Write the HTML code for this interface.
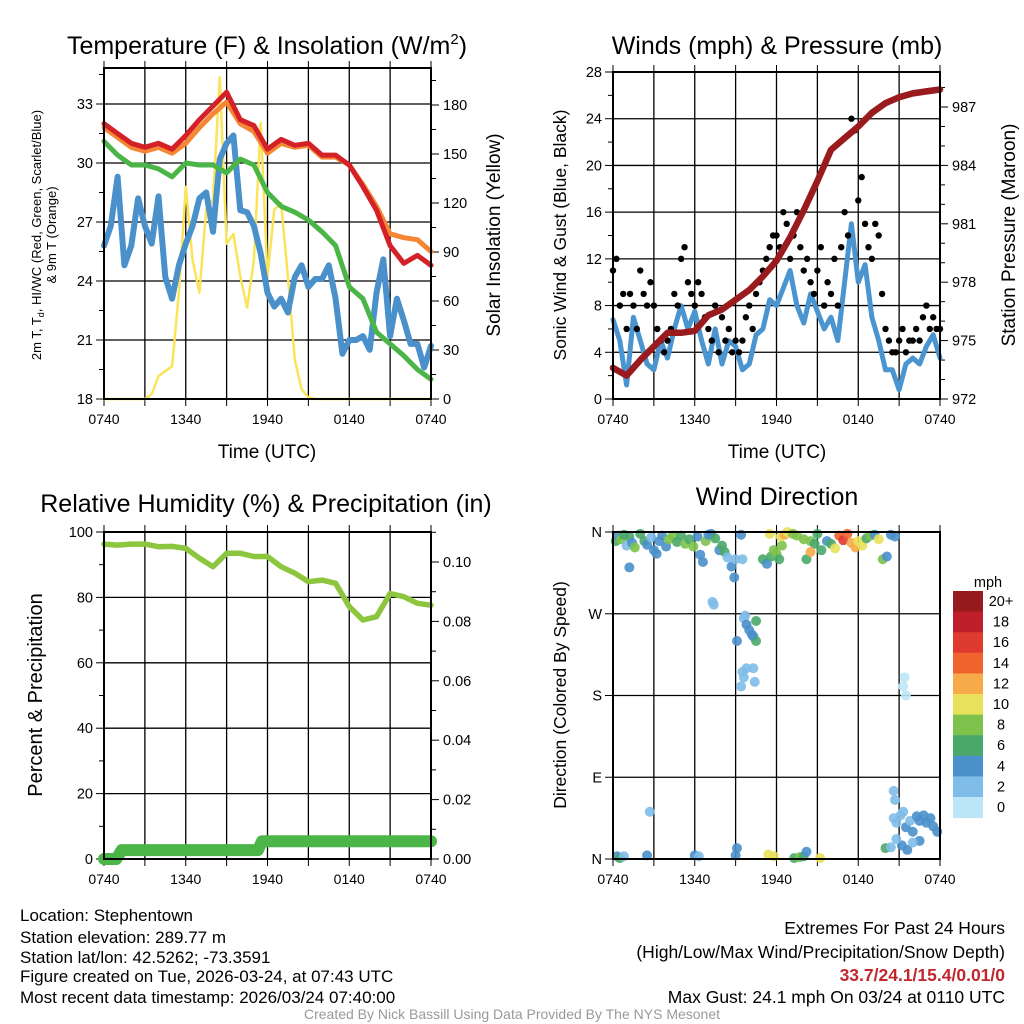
<!DOCTYPE html>
<html><head><meta charset="utf-8"><title>Station Meteogram</title>
<style>
html,body{margin:0;padding:0;background:#fff;}
svg{display:block;font-family:"Liberation Sans",sans-serif;}
</style></head>
<body>
<svg id="fig" width="1024" height="1024" viewBox="0 0 1024 1024" xmlns="http://www.w3.org/2000/svg">
<rect x="0" y="0" width="1024" height="1024" fill="#fff"/>
<text x="267" y="54" font-size="25" text-anchor="middle">Temperature (F) &amp; Insolation (W/m<tspan font-size="15" dy="-10">2</tspan><tspan dy="10">)</tspan></text>
<text x="777" y="54" font-size="25" text-anchor="middle">Winds (mph) &amp; Pressure (mb)</text>
<text x="266" y="512" font-size="25" text-anchor="middle">Relative Humidity (%) &amp; Precipitation (in)</text>
<text x="777" y="505" font-size="25" text-anchor="middle">Wind Direction</text>

<text transform="translate(41,235) rotate(-90)" font-size="13" text-anchor="middle">2m T, T<tspan font-size="9" dy="3">d</tspan><tspan dy="-3">, HI/WC (Red, Green, Scarlet/Blue)</tspan></text>
<text transform="translate(56,235) rotate(-90)" font-size="13" text-anchor="middle">&amp; 9m T (Orange)</text>
<text transform="translate(500,235) rotate(-90)" font-size="19" text-anchor="middle">Solar Insolation (Yellow)</text>
<text transform="translate(566,235) rotate(-90)" font-size="17.5" text-anchor="middle">Sonic Wind &amp; Gust (Blue, Black)</text>
<text transform="translate(1015,235) rotate(-90)" font-size="19" text-anchor="middle">Station Pressure (Maroon)</text>
<text transform="translate(42,695) rotate(-90)" font-size="20" text-anchor="middle">Percent &amp; Precipitation</text>
<text transform="translate(566,695) rotate(-90)" font-size="17.5" text-anchor="middle">Direction (Colored By Speed)</text>
<text x="267" y="458" font-size="19" text-anchor="middle">Time (UTC)</text>
<text x="777" y="458" font-size="19" text-anchor="middle">Time (UTC)</text>

<g font-size="17">
<text x="20" y="921">Location: Stephentown</text>
<text x="20" y="943">Station elevation: 289.77 m</text>
<text x="20" y="963">Station lat/lon: 42.5262; -73.3591</text>
<text x="20" y="982">Figure created on Tue, 2026-03-24, at 07:43 UTC</text>
<text x="20" y="1003">Most recent data timestamp: 2026/03/24 07:40:00</text>
</g>
<g font-size="17.5" text-anchor="end">
<text x="1005" y="934">Extremes For Past 24 Hours</text>
<text x="1005" y="958">(High/Low/Max Wind/Precipitation/Snow Depth)</text>
<text x="1005" y="981" fill="#c1272d" font-weight="bold">33.7/24.1/15.4/0.01/0</text>
<text x="1005" y="1003">Max Gust: 24.1 mph On 03/24 at 0110 UTC</text>
</g>
<text x="512" y="1019" font-size="14" fill="#999" text-anchor="middle">Created By Nick Bassill Using Data Provided By The NYS Mesonet</text>
</svg>
<script>
// ---------- DATA ----------
var xTickLabels = ["0740","1340","1940","0140","0740"];
var tHalf = [0,0.5,1,1.5,2,2.5,3,3.5,4,4.5,5,5.5,6,6.5,7,7.5,8,8.5,9,9.5,10,10.5,11,11.5,12,12.5,13,13.5,14,14.5,15,15.5,16,16.5,17,17.5,18,18.5,19,19.5,20,20.5,21,21.5,22,22.5,23,23.5,24];
var tHour = [0,1,2,3,4,5,6,7,8,9,10,11,12,13,14,15,16,17,18,19,20,21,22,23,24];
var tempTicks = [18,21,24,27,30,33];
var solarTicks = [0,30,60,90,120,150,180];
var temp2m = [32.0,31.5,31.0,30.8,31.0,30.7,31.4,32.2,32.9,33.6,32.2,31.9,30.7,31.2,30.9,31.0,30.4,30.4,29.9,28.8,27.6,25.8,24.9,25.3,24.8];
var temp9m = [31.8,31.3,30.8,30.6,30.8,30.5,31.0,31.8,32.5,33.1,32.0,31.6,30.5,31.0,30.8,30.9,30.3,30.3,29.9,28.9,27.8,26.4,26.2,26.1,25.5];
var dewpoint = [31.1,30.4,29.9,29.9,29.7,29.3,30.0,29.9,29.9,29.5,30.2,29.9,28.5,27.8,27.5,27.1,26.5,25.8,23.7,23.1,21.4,20.8,20.2,19.5,19.0];
var windChill = [25.8,26.8,29.3,24.8,25.8,28.2,26.8,25.9,28.3,24.2,23.1,24.8,25.9,26.8,28.2,28.5,26.5,30.2,31.0,31.4,27.6,27.5,26.8,25.4,23.4,22.7,23.1,22.4,24.2,24.8,23.7,24.1,24.1,24.8,23.1,20.3,21.0,21.0,21.2,20.5,23.4,25.1,21.2,23.1,22.0,20.8,20.8,19.6,20.7];
var solar = [0,0,0,0,0,0,0,3,14,17,20,65,130,85,65,116,122,197,95,101,75,56,85,169,75,116,120,75,24,6,1,0,0,0,0,0,0,0,0,0,0,0,0,0,0,0,0,0,0];

var windTicks = [0,4,8,12,16,20,24,28];
var presTicks = [972,975,978,981,984,987];
var windSpeed = [6.8,5,1.2,7,5,3,2.5,5,3.5,6,8,6,7.5,5,3,6,3,5,4.5,2.5,3,5.5,6,8.5,8,9.5,11,8,6.5,9,7.5,6,7,5,10,15,10,11.5,7,5,2.5,2.5,0.8,3,3.5,3,4.5,5.5,3.5];
var windGust = [11,12,8,9,6,9,8,6, 11,9,8,10,8,6,5,4, 5,6,9,8,12,13,10,9, 8,10,9,7,6,5,8,4, 7,5,6,4,5,4,5,7, 8,6,9,10,11,12,13,14, 14,13,16,15,12,14,16,13, 11,12,10,9,11,13,8,10, 9,12,8,13,16,14,24,23, 17,19,15,13,12,15,14,9, 6,5,4,4,5,6,4,5, 5,6,5,7,8,6,7,6,6];
var pressure = [973.6,973.2,974.0,974.7,975.4,975.4,975.5,976.3,976.6,977.1,977.6,978.3,979.1,980.3,981.7,983.2,984.8,985.4,986.0,986.7,987.2,987.5,987.7,987.8,987.9];

var rhTicks = [0,20,40,60,80,100];
var precipTicks = [0.00,0.02,0.04,0.06,0.08,0.10];
var rh = [96.3,96,96.3,96.3,95.5,95.6,95,92,89.4,93.5,93.5,92.5,92.5,89.4,87.4,84.8,85.3,84.3,77.2,73.1,74.1,81.2,80.2,78.2,77.6];
var precipTimes = [0,0.9,1.3,11.3,11.6,24];
var precip = [0,0,0.003,0.003,0.006,0.006];

var dirTickLabels = ["N","E","S","W","N"];
var dirTickValues = [0,90,180,270,360];
var dirTimes = [0.2,0.4,0.6,0.8,1.0,1.2,1.4,1.6,1.2,2.0,2.3,2.5,2.8,3.0,3.2,3.4,3.6,3.9,4.1,4.4,4.7,5.0,5.3,5.6,5.9,6.2,6.4,6.6,6.8,7.0,7.2,7.5,7.8,8.0,8.2,8.4,8.7,8.9,9.0,9.5,9.4,
 7.3,7.4,9.1,9.6,9.7,9.8,10.0,10.3,10.5,10.2,9.8,9.5,9.6,10.4,9.4,10.3,10.5,
 11.0,11.3,11.6,11.8,12.0,12.2,12.4,11.5,12.3,12.6,12.8,13.2,13.5,14.0,14.5,14.8,15.0,15.3,14.2,14.5,15.7,16.0,16.3,16.6,16.9,17.2,17.5,17.8,18.0,18.3,18.6,18.9,19.2,19.5,19.8,20.1,20.4,20.7,
 0.3,0.5,0.8,2.5,2.7,6.0,6.3,9.0,9.1,11.4,11.8,13.3,13.7,14.0,14.2,15.2,20.0,20.4,
 20.6,20.7,20.6,20.8,21.1,21.3,21.5,21.8,22.0,22.3,22.5,22.8,23.0,23.3,23.5,23.8,22.5,21.2,21.6,22.0,20.8,21.3,21.4,21.5];
var dirValues = [350,356,352,357,345,355,348,343,321,358,350,346,354,340,336,350,356,344,352,356,349,356,347,352,344,355,335,327,350,357,358,353,340,345,338,332,322,310,330,330,357,
 283,280,240,265,268,258,252,245,240,247,210,206,200,195,190,210,262,
 330,325,333,340,336,330,345,358,355,357,360,358,356,352,350,347,358,340,330,338,350,347,342,356,351,358,348,343,350,345,353,356,357,352,330,333,357,355,
 3,1,3,4,52,4,3,4,12,5,3,1,2,3,8,1,12,13,
 75,65,45,40,48,52,35,42,30,47,42,48,40,45,36,30,20,15,10,18,22,190,200,180];
var dirSpeeds = [6,4,8,6,2,6,4,8,4,6,6,4,2,4,4,4,4,4,8,8,6,6,8,6,8,4,4,4,8,4,4,6,4,6,6,2,4,4,2,2,4,
 2,2,4,2,2,4,4,4,6,4,2,2,2,2,2,2,6,
 6,4,6,8,8,6,8,10,10,12,10,8,8,8,8,6,6,6,6,12,4,6,10,14,16,14,12,12,10,10,6,8,4,10,8,4,4,4,
 4,6,2,4,2,4,2,4,4,10,10,6,8,6,4,10,6,2,
 2,2,2,2,2,2,4,2,4,4,4,4,4,4,4,4,4,4,4,2,2,0,0,0];
var cbarLabels = ["20+","18","16","14","12","10","8","6","4","2","0"];

// ---------- HELPERS ----------
var NS = "http://www.w3.org/2000/svg";
var svg = document.getElementById("fig");
function mk(tag, attrs, parent){
  var e = document.createElementNS(NS, tag);
  for (var k in attrs) e.setAttribute(k, attrs[k]);
  (parent||svg).appendChild(e);
  return e;
}
function speedColor(s){
  var cols = ["#bde5f8","#7fbce8","#4a90cb","#4aa86a","#7dc24b","#e8e25a","#f7aa48","#f0632d","#de3a2e","#bf1e2b","#961a1d"];
  var i = Math.floor(s/2); if (i>10) i=10; if (i<0) i=0;
  return cols[i];
}
function makePanel(name, L, T, R, B){
  var g = mk("g", {});
  
  
  return {g:g, L:L, T:T, R:R, B:B,
    x: function(t){ return L + (R-L)*t/24; }};
}
function lin(d0,d1,p0,p1){ return function(v){ return p0 + (v-d0)*(p1-p0)/(d1-d0); }; }

function gridAndTicks(p, leftTicks, ly, leftFmt, rightTicks, ry, rightFmt, hLines, leftMinor, rightMinor){
  var gg = mk("g", {}, p.g);
  
  
  for (var h=3; h<24; h+=3){
    mk("line", {x1:p.x(h), x2:p.x(h), y1:p.T, y2:p.B, stroke:"#000", "stroke-width":1.3}, gg);
  }
  hLines.forEach(function(v){
    var y = ly(v);
    if (y>p.T+1 && y<p.B-1) mk("line", {x1:p.L, x2:p.R, y1:y, y2:y, stroke:"#000", "stroke-width":1.3}, gg);
  });
  for (var h=0; h<=24; h+=3){
    var X = p.x(h);
    mk("line", {x1:X,x2:X,y1:p.B,y2:p.B+7,stroke:"#000","stroke-width":1}, gg);
    mk("line", {x1:X,x2:X,y1:p.T,y2:p.T-7,stroke:"#000","stroke-width":1}, gg);
  }
  xTickLabels.forEach(function(s,i){
    var t = mk("text", {x:p.x(i*6), y:p.B+25, "font-size":14, "text-anchor":"middle"}, p.g);
    
    
    t.textContent = s;
  });
  leftTicks.forEach(function(v){
    var y = ly(v);
    mk("line", {x1:p.L-8,x2:p.L,y1:y,y2:y,stroke:"#000","stroke-width":1}, gg);
    var t = mk("text", {x:p.L-11, y:y+5, "font-size":14.5, "text-anchor":"end"}, p.g);
    
    
    t.textContent = leftFmt(v);
  });
  if (leftMinor) leftMinor.forEach(function(v){ var y=ly(v); if(y>=p.T) mk("line",{x1:p.L-5,x2:p.L,y1:y,y2:y,stroke:"#000","stroke-width":1},gg); });
  if (rightTicks) rightTicks.forEach(function(v){
    var y = ry(v);
    mk("line", {x1:p.R,x2:p.R+8,y1:y,y2:y,stroke:"#000","stroke-width":1}, gg);
    var t = mk("text", {x:p.R+12, y:y+5, "font-size":14.5, "text-anchor":"start"}, p.g);
    
    
    t.textContent = rightFmt(v);
  });
  if (rightMinor) rightMinor.forEach(function(v){ var y=ry(v); if(y>=p.T) mk("line",{x1:p.R,x2:p.R+5,y1:y,y2:y,stroke:"#000","stroke-width":1},gg); });
}
function frame(p){
  var f = mk("rect", {x:p.L, y:p.T, width:p.R-p.L, height:p.B-p.T, fill:"none", stroke:"#000", "stroke-width":2}, p.g);
  
  
}
function line(p, ts, vs, sy, color, w, name){
  var d = ts.map(function(t,i){ return (i?"L":"M") + p.x(t).toFixed(1) + " " + sy(vs[i]).toFixed(1); }).join(" ");
  var e = mk("path", {d:d, fill:"none", stroke:color, "stroke-width":w, "stroke-linejoin":"round", "stroke-linecap":"round"}, p.g);
  
  
}
function range(a,b,s){ var r=[]; for(var v=a; v<=b+1e-9; v+=s) r.push(v); return r; }

// ---------- PANEL 1 ----------
var p1 = makePanel("temperature-panel", 104, 68, 431, 399);
var yT = lin(18, 33, 399, 104);
var yS = lin(0, 180, 399, 105);
gridAndTicks(p1, tempTicks, yT, function(v){return v;}, solarTicks, yS, function(v){return v;}, tempTicks, range(19.5,34.5,1.5).filter(function(v){return v%3;}), range(15,195,30));
line(p1, tHalf, solar, yS, "#fbe35a", 2.5, "solar-insolation-line");
line(p1, tHalf, windChill, yT, "#4a90cb", 6, "wind-chill-line");
line(p1, tHour, dewpoint, yT, "#4cb548", 5, "dewpoint-line");
line(p1, tHour, temp9m, yT, "#f58634", 5, "temp-9m-line");
line(p1, tHour, temp2m, yT, "#d42027", 5, "temp-2m-line");
frame(p1);

// ---------- PANEL 2 ----------
var p2 = makePanel("winds-panel", 613, 72, 940, 399);
var yW = lin(0, 28, 399, 72);
var yP = lin(972, 987, 399, 107);
gridAndTicks(p2, windTicks, yW, function(v){return v;}, presTicks, yP, function(v){return v;}, windTicks, range(2,26,4), range(973,988,1).filter(function(v){return (v-972)%3;}));
line(p2, tHalf, windSpeed, yW, "#4a95d0", 5, "wind-speed-line");
windGust.forEach(function(v,i){
  var c = mk("circle", {cx:p2.x(i*0.25), cy:yW(v), r:3.2, fill:"#000"}, p2.g);
  
  
});
line(p2, tHour, pressure, yP, "#9a1b1e", 6.5, "pressure-line");
frame(p2);

// ---------- PANEL 3 ----------
var p3 = makePanel("humidity-panel", 104, 532, 431, 859);
var yR = lin(0, 100, 859, 532);
var yPr = lin(0, 0.10, 859, 562);
gridAndTicks(p3, rhTicks, yR, function(v){return v;}, precipTicks, yPr, function(v){return v.toFixed(2);}, rhTicks, range(10,90,20), range(0.01,0.11,0.01).filter(function(v,i){return i%2===0;}));
line(p3, tHour, rh, yR, "#8cc63f", 5.5, "relative-humidity-line");
line(p3, precipTimes, precip, yPr, "#4cb548", 12, "precipitation-line");
frame(p3);

// ---------- PANEL 4 ----------
var p4 = makePanel("direction-panel", 613, 532, 940, 859);
var yD = lin(0, 360, 859, 532);
gridAndTicks(p4, dirTickValues, yD, function(v){ return dirTickLabels[dirTickValues.indexOf(v)]; }, null, null, null, dirTickValues, null, null);
dirTimes.forEach(function(t,i){
  var c = mk("circle", {cx:p4.x(t), cy:yD(dirValues[i]), r:5, fill:speedColor(dirSpeeds[i]), "fill-opacity":0.9}, p4.g);
  
  
});
frame(p4);

// ---------- COLORBAR ----------
var cb = mk("g", {});


var cbTop = 591, cbH = 20.6;
var mt = mk("text", {x:988, y:587, "font-size":14.5, "text-anchor":"middle"}, cb);


mt.textContent = "mph";
cbarLabels.forEach(function(s,i){
  var spd = (10-i)*2;
  var r = mk("rect", {x:953, y:cbTop+i*cbH, width:30, height:cbH+0.5, fill:speedColor(spd)}, cb);
  
  
  var t = mk("text", {x:1001, y:cbTop+i*cbH+15, "font-size":14.5, "text-anchor":"middle"}, cb);
  
  
  t.textContent = s;
});
</script>
</body></html>
